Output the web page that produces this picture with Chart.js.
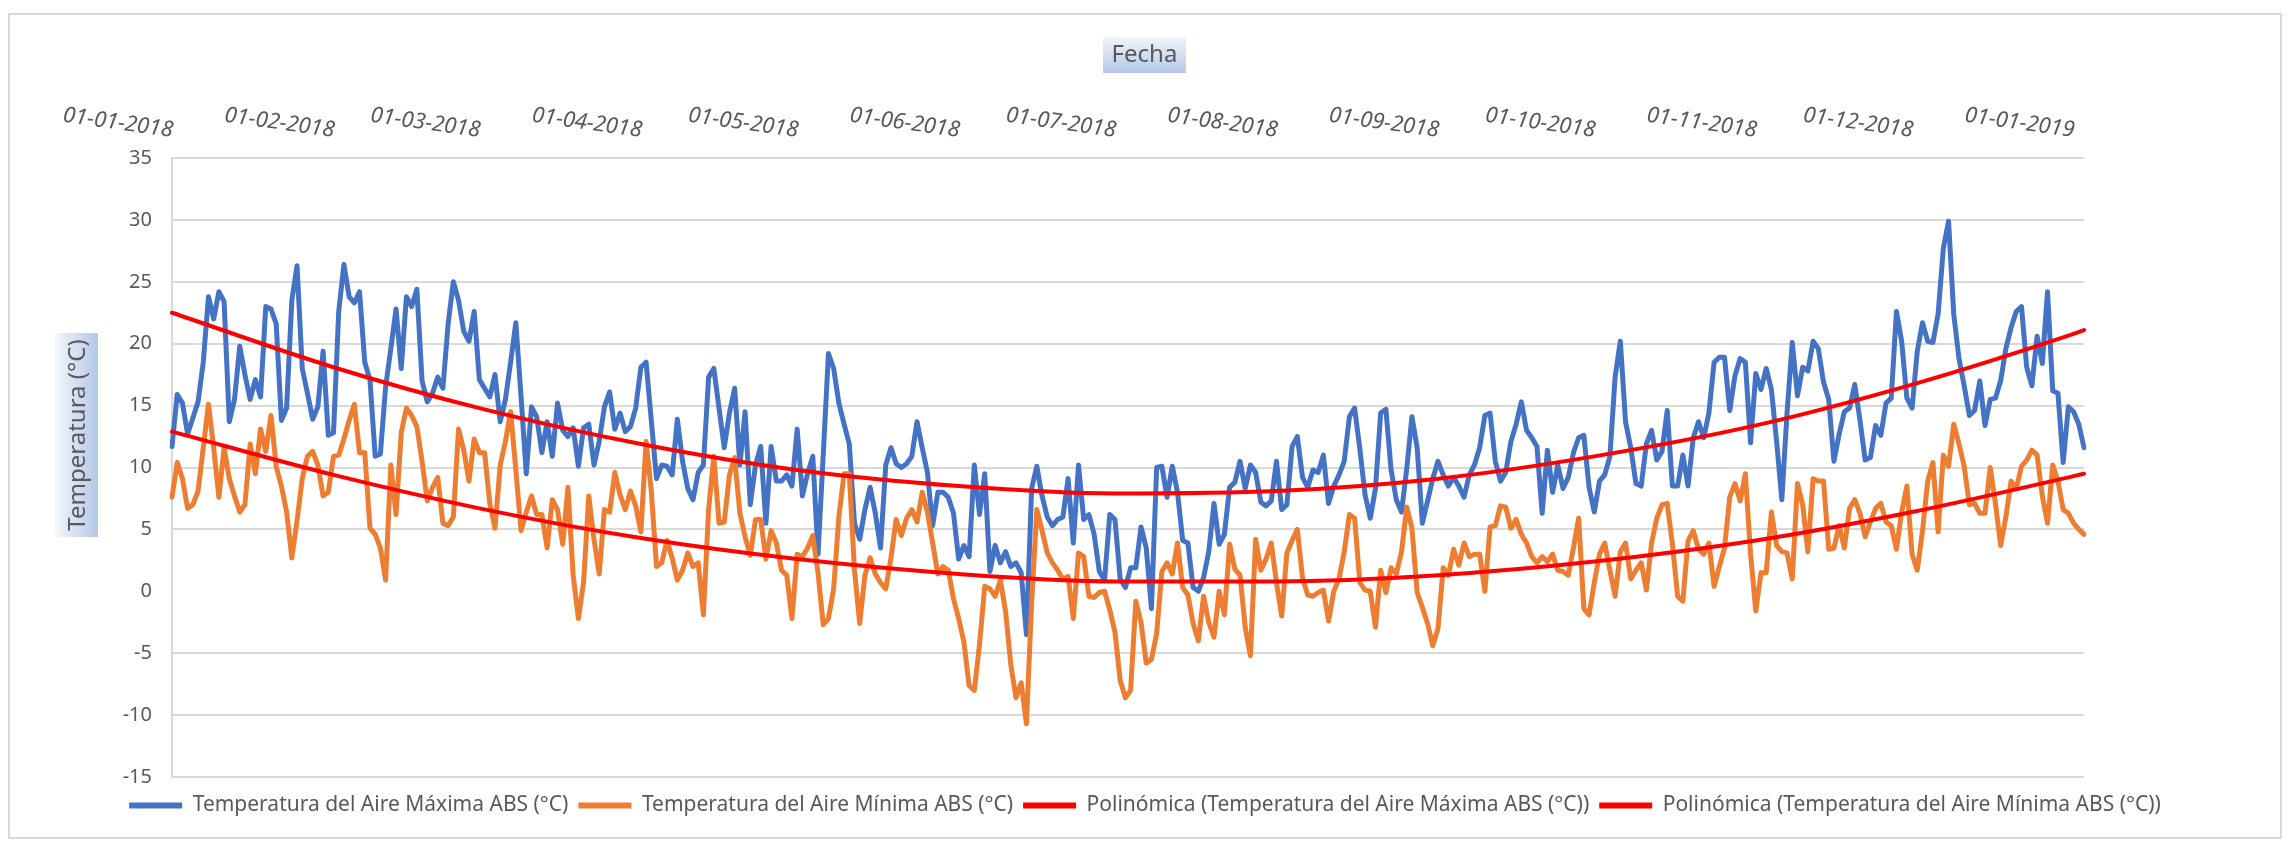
<!DOCTYPE html>
<html>
<head>
<meta charset="utf-8">
<script src="https://cdn.jsdelivr.net/npm/chart.js@4.4.1/dist/chart.umd.min.js"></script>
<style>
  html, body { margin: 0; padding: 0; background: #fff; }
  #wrap { position: relative; width: 2290px; height: 842px; }
</style>
</head>
<body>
<div id="wrap"><canvas id="tempChart"></canvas></div>
<script>
// Temperatura máxima diaria (°C), 01-01-2018 a 03-01-2019
const tempMax = [
  11.7, 15.9, 15.2, 12.7, 14, 15.3, 18.5, 23.8, 22, 24.2,
  23.4, 13.7, 15.5, 19.8, 17.5, 15.5, 17.1, 15.7, 23, 22.8,
  21.6, 13.8, 14.8, 23.5, 26.3, 18, 16, 13.9, 14.9, 19.4,
  12.6, 12.8, 22.6, 26.4, 23.8, 23.3, 24.2, 18.5, 17.1, 10.9,
  11.1, 16.5, 19.6, 22.8, 18, 23.8, 23, 24.4, 17, 15.3,
  16, 17.3, 16.4, 21.6, 25, 23.5, 21, 20.2, 22.6, 17.1,
  16.4, 15.7, 17.5, 13.7, 15.5, 18.5, 21.7, 15.7, 9.5, 14.9,
  14.1, 11.2, 13.7, 10.9, 15.2, 13, 12.5, 13.2, 10.1, 13.2,
  13.5, 10.2, 12.1, 14.9, 16.1, 13.1, 14.4, 12.9, 13.3, 14.8,
  18.1, 18.5, 13.8, 9.1, 10.2, 10.1, 9.4, 13.9, 10.5, 8.3,
  7.4, 9.6, 10.2, 17.3, 18, 14.8, 11.6, 14.4, 16.4, 10.2,
  14.5, 7, 10.2, 11.7, 5.5, 11.7, 8.9, 8.9, 9.4, 8.5,
  13.1, 7.7, 9.5, 10.9, 3, 11, 19.2, 18, 15.2, 13.5,
  11.9, 5.5, 4.2, 6.6, 8.4, 6.3, 3.5, 10.2, 11.6, 10.3,
  10, 10.3, 10.9, 13.7, 11.6, 9.6, 5.3, 8, 8, 7.6,
  6.3, 2.6, 3.7, 2.8, 10.2, 6.2, 9.5, 1.6, 3.7, 2.3,
  3.2, 2, 2.3, 1.5, -3.5, 8.3, 10.1, 7.7, 6, 5.3,
  5.8, 6, 9.1, 3.9, 10.2, 5.8, 6.2, 4.6, 1.6, 0.9,
  6.2, 5.8, 1, 0.3, 1.9, 1.9, 5.2, 3.5, -1.4, 10,
  10.1, 7.6, 10.1, 8, 4.1, 3.9, 0.3, 0, 1.1, 3.2,
  7.1, 3.8, 4.6, 8.4, 8.8, 10.5, 8.3, 10.2, 9.6, 7.2,
  6.9, 7.3, 10.5, 6.6, 7, 11.7, 12.5, 9.2, 8.4, 9.8,
  9.6, 11, 7.1, 8.5, 9.4, 10.5, 14.1, 14.8, 11.5, 7.8,
  5.9, 8.3, 14.4, 14.7, 9.8, 7.4, 6.4, 9.9, 14.1, 11.6,
  5.5, 7.3, 9.1, 10.5, 9.4, 8.5, 9.2, 8.5, 7.6, 9.4,
  10.2, 11.6, 14.2, 14.4, 10.5, 8.9, 9.6, 12.1, 13.5, 15.3,
  13, 12.4, 11.7, 6.3, 11.4, 8, 10.2, 8.3, 9.2, 11.2,
  12.4, 12.6, 8.4, 6.4, 8.9, 9.4, 10.9, 17.3, 20.2, 13.7,
  11.6, 8.7, 8.5, 11.9, 13, 10.6, 11.3, 14.6, 8.5, 8.5,
  11, 8.5, 12.4, 13.7, 12.4, 14.4, 18.5, 18.9, 18.9, 14.6,
  17.4, 18.8, 18.5, 12, 17.6, 16.3, 18, 16.3, 12.1, 7.4,
  14.4, 20.1, 15.8, 18.1, 17.8, 20.2, 19.6, 16.9, 15.5, 10.5,
  12.7, 14.5, 14.8, 16.7, 13.8, 10.6, 10.8, 13.4, 12.6, 15.2,
  15.6, 22.6, 20.2, 15.6, 14.8, 19.4, 21.7, 20.2, 20.1, 22.4,
  27.7, 29.9, 22.4, 18.8, 16.6, 14.2, 14.6, 17, 13.4, 15.5,
  15.6, 17, 19.6, 21.3, 22.6, 23, 18.1, 16.6, 20.6, 18.4,
  24.2, 16.2, 16, 10.4, 14.9, 14.5, 13.5, 11.6
];

// Temperatura mínima diaria (°C)
const tempMin = [
  7.6, 10.4, 9.1, 6.7, 7, 8.1, 11.6, 15.1, 11.6, 7.6,
  11.6, 9.1, 7.7, 6.4, 7, 11.9, 9.5, 13.1, 11.3, 14.2,
  10.1, 8.5, 6.4, 2.7, 5.7, 9.1, 10.9, 11.3, 10.2, 7.7,
  8, 10.9, 11, 12.3, 13.8, 15.1, 11.2, 11.2, 5.1, 4.6,
  3.5, 0.9, 10.2, 6.2, 12.8, 14.8, 14.2, 13.3, 10.5, 7.3,
  8.4, 9.2, 5.5, 5.3, 6, 13.1, 11.4, 8.9, 12.3, 11.2,
  11.2, 7.1, 5.1, 10.2, 12.1, 14.5, 9.8, 4.9, 6.4, 7.7,
  6.2, 6.2, 3.5, 7.4, 6.6, 3.8, 8.4, 1.3, -2.2, 0.7,
  7.7, 4.2, 1.4, 6.6, 6.4, 9.6, 7.8, 6.6, 8.1, 6.9,
  4.8, 12.1, 8.1, 2, 2.3, 4.1, 2.7, 0.9, 1.7, 3.1,
  2, 2.3, -1.9, 6.6, 10.9, 5.5, 5.6, 9.4, 10.8, 6.3,
  4.4, 2.9, 5.8, 5.8, 2.6, 4.9, 3.9, 1.7, 1.3, -2.2,
  3, 2.8, 3.5, 4.5, 1.5, -2.7, -2.2, 0.2, 6, 9.5,
  9.5, 1.7, -2.6, 1.3, 2.7, 1.4, 0.7, 0.2, 2.7, 5.8,
  4.5, 5.9, 6.6, 5.6, 8, 6.4, 3.9, 1.4, 2, 1.7,
  -0.6, -2.2, -4.1, -7.6, -8, -4.3, 0.4, 0.2, -0.4, 0.9,
  -1.6, -5.9, -8.6, -7.4, -10.7, -1, 6.6, 4.9, 3.1, 2.3,
  1.7, 1, 1.2, -2.2, 3.1, 2.8, -0.4, -0.5, -0.1, 0,
  -1.5, -3.3, -7.2, -8.6, -8, -0.8, -2.5, -5.8, -5.5, -3.4,
  1.6, 2.3, 1.4, 3.9, 0.3, -0.3, -2.6, -4, -0.4, -2.5,
  -3.7, 0, -1.9, 3.8, 1.8, 1.3, -2.9, -5.2, 4.2, 1.7,
  2.6, 3.9, 0.7, -2, 3.1, 4.1, 5, 1.1, -0.3, -0.4,
  -0.1, 0.1, -2.4, 0, 1, 3.2, 6.2, 5.9, 0.7, 0.1,
  0, -2.9, 1.7, -0.1, 1.9, 1.4, 3.2, 6.8, 5.1, -0.1,
  -1.3, -2.6, -4.4, -3, 1.9, 1.3, 3.4, 2.1, 3.9, 2.8,
  3, 3, 0, 5.2, 5.3, 6.9, 6.8, 5.1, 5.8, 4.6,
  3.9, 2.8, 2.3, 2.8, 2.4, 3, 1.7, 1.6, 1.3, 3.5,
  5.9, -1.4, -1.9, 0.7, 3, 3.9, 1.7, -0.4, 3.2, 3.9,
  1, 1.7, 2.3, 0.1, 3.9, 5.9, 7, 7.1, 3.8, -0.4,
  -0.8, 4.1, 4.9, 3.4, 3, 3.9, 0.4, 2, 3.5, 7.6,
  8.7, 7.3, 9.5, 3, -1.6, 1.5, 1.5, 6.4, 3.7, 3.2,
  3.1, 1, 8.7, 7, 3.2, 9.1, 8.9, 8.9, 3.4, 3.5,
  5.3, 3.5, 6.7, 7.4, 6.3, 4.4, 5.6, 6.7, 7.1, 5.6,
  5.3, 3.4, 6.4, 8.5, 3, 1.7, 4.9, 8.9, 10.4, 4.8,
  11, 10.1, 13.5, 11.9, 10.1, 7, 7.1, 6.3, 6.3, 10,
  7.1, 3.7, 6, 8.9, 8.3, 10.1, 10.6, 11.4, 11, 7.7,
  5.5, 10.2, 8.9, 6.6, 6.3, 5.5, 5, 4.6
];

// Líneas de tendencia polinómica
const fechasTendencia = ['01-01-2018', '01-02-2018', '01-03-2018', '01-04-2018', '01-05-2018', '01-06-2018',
  '01-07-2018', '01-08-2018', '01-09-2018', '01-10-2018', '01-11-2018', '01-12-2018', '01-01-2019', '03-01-2019'];
const tendMax = [22.5, 18.1, 14.8, 11.9, 9.8, 8.5, 7.9, 8.1, 9.1, 10.9, 13.4, 16.7, 20.8, 21.1];
const tendMin = [12.9, 9.4, 6.7, 4.3, 2.6, 1.4, 0.8, 0.8, 1.3, 2.4, 4.1, 6.4, 9.3, 9.5];

// Etiquetas del eje de fechas
const etiquetasMes = ['01-01-2018', '01-02-2018', '01-03-2018', '01-04-2018', '01-05-2018', '01-06-2018',
  '01-07-2018', '01-08-2018', '01-09-2018', '01-10-2018', '01-11-2018', '01-12-2018', '01-01-2019'];

const nombres = [
  'Temperatura del Aire Máxima ABS (°C)',
  'Temperatura del Aire Mínima ABS (°C)',
  'Polinómica (Temperatura del Aire Máxima ABS (°C))',
  'Polinómica (Temperatura del Aire Mínima ABS (°C))'
];

// un dia por categoria
const fechas = [];
for (let i = 0; i < tempMax.length; i++) {
  const d = new Date(Date.UTC(2018, 0, 1 + i));
  fechas.push(String(d.getUTCDate()).padStart(2, '0') + '-' +
    String(d.getUTCMonth() + 1).padStart(2, '0') + '-' + d.getUTCFullYear());
}

const GRIS = '#595959';
Chart.defaults.font.family = "'Noto Sans', sans-serif";
Chart.defaults.color = GRIS;

const marco = {
  id: 'marco',
  beforeDraw(chart) {
    const ctx = chart.ctx;
    ctx.save();
    ctx.fillStyle = '#fff';
    ctx.fillRect(0, 0, chart.width, chart.height);
    ctx.strokeStyle = '#d9d9d9';
    ctx.lineWidth = 2;
    ctx.strokeRect(9, 14, 2272, 824);
    ctx.restore();
  }
};

// titulos de ejes con su caja degradada
const titulos = {
  id: 'titulos',
  afterDraw(chart) {
    const ctx = chart.ctx;
    ctx.save();
    // Fecha
    let g = ctx.createLinearGradient(0, 37, 0, 73);
    g.addColorStop(0, '#f2f5fb');
    g.addColorStop(1, '#b4c7e7');
    ctx.fillStyle = g;
    ctx.fillRect(1103, 37, 83, 36);
    ctx.fillStyle = GRIS;
    ctx.font = "24px 'Noto Sans'";
    ctx.textAlign = 'center';
    ctx.textBaseline = 'middle';
    ctx.fillText('Fecha', 1144.5, 55);
    // Temperatura
    g = ctx.createLinearGradient(55, 0, 98, 0);
    g.addColorStop(0, '#f4f7fc');
    g.addColorStop(1, '#b4c7e7');
    ctx.fillStyle = g;
    ctx.fillRect(55, 333, 43, 204);
    ctx.translate(78, 435);
    ctx.rotate(-Math.PI / 2);
    ctx.fillStyle = GRIS;
    ctx.fillText('Temperatura (°C)', 0, 0);
    ctx.restore();
  }
};

// etiquetas de fecha inclinadas encima del grafico
const etiquetasFecha = {
  id: 'etiquetasFecha',
  afterDraw(chart) {
    const ctx = chart.ctx;
    const xs = chart.scales.x;
    ctx.save();
    ctx.font = "italic 22px 'Noto Sans'";
    ctx.fillStyle = GRIS;
    ctx.textAlign = 'right';
    ctx.textBaseline = 'alphabetic';
    etiquetasMes.forEach(lbl => {
      const px = xs.getPixelForValue(fechas.indexOf(lbl));
      ctx.save();
      ctx.translate(px, 137);
      ctx.rotate(8 * Math.PI / 180);
      ctx.fillText(lbl, 0, 0);
      ctx.restore();
    });
    ctx.restore();
  }
};

const tendencia = vals => fechasTendencia.map((f, i) => ({ x: f, y: vals[i] }));

// ejes vacios que solo reservan espacio
const hueco = size => ({
  type: 'linear',
  display: true,
  grid: { display: false },
  border: { display: false },
  ticks: { display: false },
  afterFit: s => { if (s.isHorizontal()) s.height = size; else s.width = size; }
});

new Chart(document.getElementById('tempChart'), {
  type: 'line',
  data: {
    labels: fechas,
    datasets: [
      { label: nombres[0], data: tempMax, borderColor: '#4472c4', backgroundColor: '#4472c4', borderWidth: 5, order: 3 },
      { label: nombres[1], data: tempMin, borderColor: '#ed7d31', backgroundColor: '#ed7d31', borderWidth: 5, order: 2 },
      { label: nombres[2], data: tendencia(tendMax), borderColor: '#ff0000', backgroundColor: '#ff0000', borderWidth: 4,
        cubicInterpolationMode: 'monotone', order: 1 },
      { label: nombres[3], data: tendencia(tendMin), borderColor: '#ff0000', backgroundColor: '#ff0000', borderWidth: 4,
        cubicInterpolationMode: 'monotone', order: 0 }
    ]
  },
  options: {
    responsive: true,
    maintainAspectRatio: false,
    devicePixelRatio: 1,
    animation: false,
    elements: {
      point: { radius: 0, hoverRadius: 0 },
      line: { tension: 0, borderJoinStyle: 'round', borderCapStyle: 'round' }
    },
    layout: { padding: { left: 0, top: 0, right: 0, bottom: 16 } },
    scales: {
      x: {
        type: 'category',
        position: 'top',
        offset: false,
        grid: { display: false },
        border: { display: false },
        ticks: { display: false },
        afterFit: s => { s.height = 158; }
      },
      y: {
        min: -15,
        max: 35,
        ticks: { stepSize: 5, padding: 20, color: GRIS, font: { size: 20 } },
        grid: {
          drawTicks: false,
          lineWidth: 2,
          color: c => (c.tick && c.tick.value === 0) ? 'rgba(0,0,0,0)' : '#d9d9d9'
        },
        border: { display: true, color: '#d9d9d9', width: 2 },
        afterFit: s => { s.width = 172; }
      },
      derecha: Object.assign(hueco(206), { position: 'right' }),
      abajo: Object.assign(hueco(8), { position: 'bottom' })
    },
    plugins: {
      legend: {
        position: 'bottom',
        labels: {
          boxWidth: 53,
          boxHeight: 6,
          padding: 10,
          color: GRIS,
          font: { size: 21 },
          sort: (a, b) => a.datasetIndex - b.datasetIndex,
          generateLabels: chart => Chart.defaults.plugins.legend.labels.generateLabels(chart)
            .map(l => Object.assign(l, { lineWidth: 0, fillStyle: l.strokeStyle }))
        }
      },
      tooltip: { enabled: false }
    }
  },
  plugins: [marco, titulos, etiquetasFecha]
});
</script>
</body>
</html>
